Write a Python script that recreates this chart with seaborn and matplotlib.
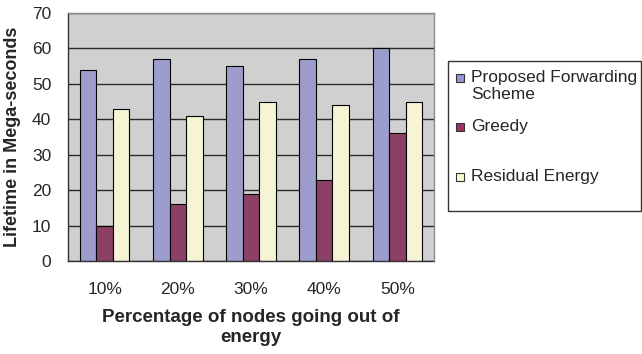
import matplotlib
matplotlib.use("Agg")
import matplotlib.pyplot as plt
from matplotlib.patches import Rectangle
import seaborn as sns
import pandas as pd

categories = ["10%", "20%", "30%", "40%", "50%"]
series_names = ["Proposed Forwarding Scheme", "Greedy", "Residual Energy"]
proposed = [54, 57, 55, 57, 60]
greedy = [10, 16, 19, 23, 36]
residual = [43, 41, 45, 44, 45]
y_ticks = [0, 10, 20, 30, 40, 50, 60, 70]
colors = ["#9595D5", "#993366", "#FBF9D0"]

rows = []
for name, vals in zip(series_names, [proposed, greedy, residual]):
    for cat, v in zip(categories, vals):
        rows.append({"category": cat, "series": name, "value": v})
df = pd.DataFrame(rows)

sns.set_style("white")
plt.rcParams["font.family"] = ["Liberation Sans", "DejaVu Sans"]

W, H = 642, 354
fig = plt.figure(figsize=(W / 100, H / 100), dpi=100)
ax = fig.add_axes([68 / W, 1 - 261 / H, (434 - 68) / W, (261 - 13) / H])
ax.set_facecolor("#D0D0D0")

sns.barplot(data=df, x="category", y="value", hue="series", hue_order=series_names,
            order=categories, palette=colors, width=0.68, edgecolor="black",
            linewidth=0.8, legend=False, ax=ax)
for p in ax.patches:
    p.set_zorder(2)

ax.set_ylim(0, 70)
ax.set_xlim(-0.5, len(categories) - 0.5)
ax.set_yticks(y_ticks)
ax.set_yticklabels([str(t) for t in y_ticks], fontsize=12.5)

# Horizontal gridlines behind the bars
ax.set_axisbelow(True)
ax.grid(axis="y", color="#2a2a2a", linewidth=1.0)
ax.grid(axis="x", visible=False)

# Tick marks at category boundaries, labels at category centres
ax.set_xticks([i - 0.5 for i in range(len(categories) + 1)])
ax.set_xticklabels([""] * (len(categories) + 1))
ax.set_xticks(range(len(categories)), minor=True)
ax.set_xticklabels(categories, minor=True, fontsize=12.5)
ax.tick_params(axis="x", which="major", direction="out", length=5, width=1, color="#333333")
ax.tick_params(axis="x", which="minor", length=0, pad=15)
ax.tick_params(axis="y", direction="out", length=5, width=1, color="#333333", pad=7)

for side in ["top", "right"]:
    ax.spines[side].set_color("#8a8a8a")
    ax.spines[side].set_linewidth(1.0)
    ax.spines[side].set_zorder(3)
for side in ["left", "bottom"]:
    ax.spines[side].set_color("#333333")
    ax.spines[side].set_linewidth(1.0)

ax.set_xlabel("Percentage of nodes going out of\nenergy", fontsize=13.5, fontweight="bold",
              labelpad=9, linespacing=1.2)
ax.set_ylabel("Lifetime in Mega-seconds", fontsize=13, fontweight="bold", labelpad=8)

# Legend box
def fx(px):
    return px / W

def fy(py):
    return 1 - py / H

fig.add_artist(Rectangle((fx(448), fy(210.5)), fx(641) - fx(448), fy(60.5) - fy(210.5),
                         transform=fig.transFigure, facecolor="white",
                         edgecolor="#333333", linewidth=1.0))
legend_labels = ["Proposed Forwarding\nScheme", "Greedy", "Residual Energy"]
legend_y = [78, 126.5, 177]
for lab, col, yc in zip(legend_labels, colors, legend_y):
    fig.add_artist(Rectangle((fx(456), fy(yc + 4)), fx(8), 8 / H,
                             transform=fig.transFigure, facecolor=col,
                             edgecolor="#333333", linewidth=0.8))
    fig.text(fx(471), fy(yc - 8), lab, fontsize=12.5, va="top", ha="left",
             linespacing=1.15)

fig.savefig("out.png", dpi=100)
